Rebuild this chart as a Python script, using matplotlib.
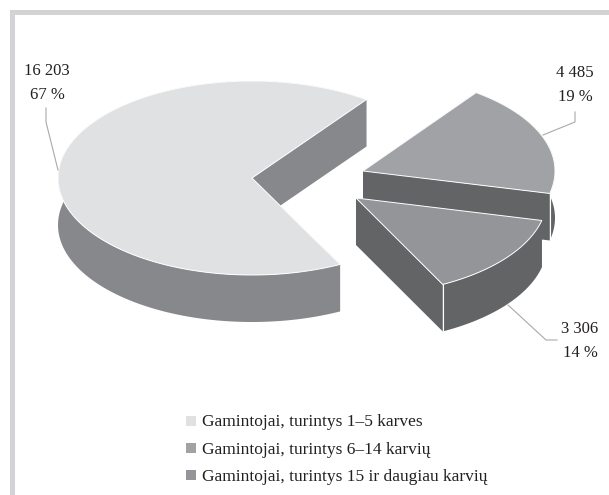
import numpy as np
import matplotlib
matplotlib.use("Agg")
import matplotlib.pyplot as plt

categories = ["Gamintojai, turintys 1–5 karves",
              "Gamintojai, turintys 6–14 karvių",
              "Gamintojai, turintys 15 ir daugiau karvių"]
values = [16203, 4485, 3306]
value_labels = ["16 203", "4 485", "3 306"]
percent_labels = ["67 %", "19 %", "14 %"]

top_colors = ["#e0e1e3", "#a1a2a5", "#939598"]
side_colors = ["#87888b", "#636466", "#636466"]
apexes = [(252, 178), (363, 171), (356, 198)]
radii_x = [194, 192, 191]
label_pos = [(47, 71), (575, 73), (580, 329)]
leaders = [[(46, 108), (46, 122), (58, 170)],
           [(575, 112), (575, 122), (543, 135)],
           [(508, 305), (546, 340), (557, 340)]]
legend_y = [420.5, 448, 475]

RY = 97
DEPTH = 47
START = 297

plt.rcParams["font.family"] = ["Liberation Serif", "DejaVu Serif"]

fig = plt.figure(figsize=(6.09, 4.95), dpi=100)
ax = fig.add_axes([0, 0, 1, 1])
ax.set_xlim(0, 609)
ax.set_ylim(495, 0)
ax.axis("off")

# frame, only left and top sides
ax.fill([10, 609, 609, 15, 15, 10], [10, 10, 15, 15, 495, 495], color="#d1d3d4", lw=0)


def arc(cx, cy, rx, a0, a1):
    t = np.radians(np.linspace(a0, a1, 200))
    return cx + rx * np.cos(t), cy - RY * np.sin(t)


angle = START
total = sum(values)
for i, v in enumerate(values):
    a0 = angle
    a1 = angle - 360 * v / total
    angle = a1
    cx, cy = apexes[i]
    x, y = arc(cx, cy, radii_x[i], a0, a1)
    # extruded side, then the cut faces, then the top
    ax.fill(np.r_[x, x[::-1]], np.r_[y, y[::-1] + DEPTH], color=side_colors[i], lw=0)
    ax.fill([cx, x[0], x[0], cx], [cy, y[0], y[0] + DEPTH, cy + DEPTH],
            color=side_colors[i], lw=0)
    ax.fill([cx, x[-1], x[-1], cx], [cy, y[-1], y[-1] + DEPTH, cy + DEPTH],
            color=side_colors[i], lw=0)
    ax.fill(np.r_[cx, x], np.r_[cy, y], facecolor=top_colors[i], edgecolor="white", lw=0.7)
    if i > 0:
        ax.plot([x[-1], x[-1]], [y[-1], y[-1] + DEPTH], color="white", lw=0.8)

for i in range(3):
    lx, ly = zip(*leaders[i])
    ax.plot(lx, ly, color="#a7a9ac", lw=0.8)
    ax.text(label_pos[i][0], label_pos[i][1], value_labels[i], fontsize=12,
            ha="center", va="center", color="#231f20")
    ax.text(label_pos[i][0], label_pos[i][1] + 24, percent_labels[i], fontsize=12,
            ha="center", va="center", color="#231f20")

for i in range(3):
    ax.fill([186, 196, 196, 186],
            [legend_y[i] - 5, legend_y[i] - 5, legend_y[i] + 5, legend_y[i] + 5],
            color=top_colors[i], lw=0)
    ax.text(202, legend_y[i] + 6, categories[i], fontsize=12.5, ha="left", va="baseline",
            color="#231f20")

fig.savefig("out.png", dpi=100)
